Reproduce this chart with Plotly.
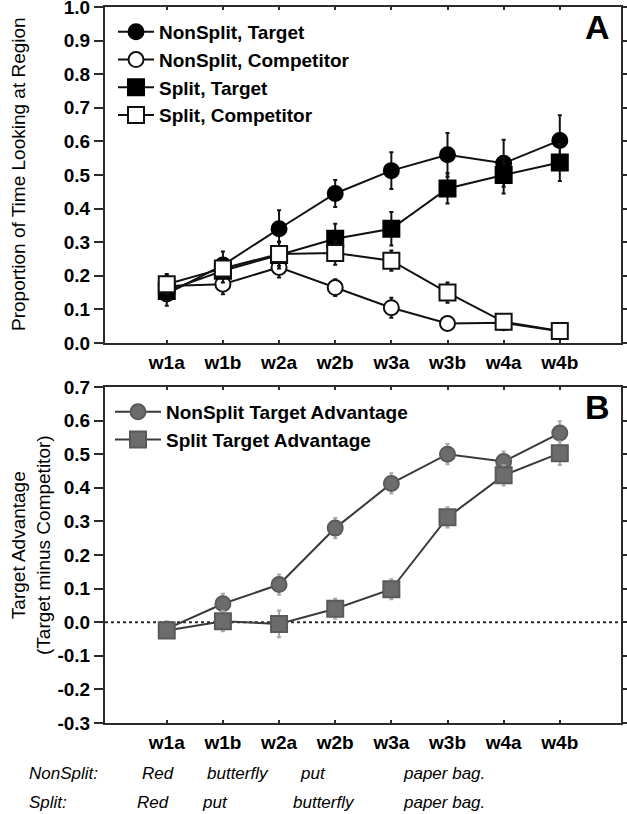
import plotly.graph_objects as go

categories = ["w1a", "w1b", "w2a", "w2b", "w3a", "w3b", "w4a", "w4b"]

# Panel A
ns_target = [0.146, 0.232, 0.340, 0.445, 0.513, 0.560, 0.535, 0.603]
ns_target_err = [0.035, 0.040, 0.055, 0.040, 0.055, 0.065, 0.070, 0.075]
ns_comp = [0.170, 0.175, 0.225, 0.165, 0.105, 0.058, 0.060, 0.035]
ns_comp_err = [0.030, 0.030, 0.030, 0.025, 0.030, 0.015, 0.015, 0.010]
sp_target = [0.155, 0.215, 0.262, 0.310, 0.340, 0.460, 0.500, 0.537]
sp_target_err = [0.030, 0.035, 0.040, 0.045, 0.050, 0.045, 0.055, 0.055]
sp_comp = [0.175, 0.222, 0.265, 0.268, 0.245, 0.150, 0.063, 0.036]
sp_comp_err = [0.030, 0.030, 0.035, 0.035, 0.030, 0.030, 0.015, 0.010]

# Panel B
ns_adv = [-0.020, 0.055, 0.112, 0.280, 0.413, 0.500, 0.478, 0.563]
ns_adv_err = [0.020, 0.030, 0.030, 0.030, 0.030, 0.030, 0.030, 0.035]
sp_adv = [-0.025, 0.003, -0.005, 0.040, 0.098, 0.312, 0.437, 0.503]
sp_adv_err = [0.020, 0.030, 0.040, 0.030, 0.030, 0.030, 0.030, 0.035]

# Tick labels
a_ticks = [0.0, 0.1, 0.2, 0.3, 0.4, 0.5, 0.6, 0.7, 0.8, 0.9, 1.0]
a_ticktext = ["0.0", "0.1", "0.2", "0.3", "0.4", "0.5", "0.6", "0.7", "0.8", "0.9", "1.0"]
b_ticks = [-0.3, -0.2, -0.1, 0.0, 0.1, 0.2, 0.3, 0.4, 0.5, 0.6, 0.7]
b_ticktext = ["-0.3", "-0.2", "-0.1", "0.0", "0.1", "0.2", "0.3", "0.4", "0.5", "0.6", "0.7"]

nonsplit_words = ["Red", "butterfly", "put", "paper bag."]
split_words = ["Red", "put", "butterfly", "paper bag."]

FONT = "Liberation Sans, Arial, sans-serif"
AX = "#2b2b2b"
W, H = 627, 814
L, R, T, B = 105, 6, 7, 91
pw, ph = W - L - R, H - T - B

def px(x):
    return (x - L) / pw

def py(y):
    return (H - B - y) / ph

xs = list(range(len(categories)))
fig = go.Figure()

def add(y, err, name, symbol, fill, line, xa, ya, legend, mcolor_line, errcolor, size):
    fig.add_trace(go.Scatter(
        x=xs, y=y, name=name, mode="lines+markers", xaxis=xa, yaxis=ya, legend=legend,
        line=dict(color=line, width=2),
        marker=dict(symbol=symbol, size=size, color=fill, line=dict(color=mcolor_line, width=2)),
        error_y=dict(type="data", array=err, visible=True, color=errcolor, thickness=2, width=2),
    ))

add(ns_target, ns_target_err, "NonSplit, Target", "circle", "black", "#111", "x", "y", "legend", "black", "#111", 15)
add(ns_comp, ns_comp_err, "NonSplit, Competitor", "circle", "white", "#111", "x", "y", "legend", "#111", "#111", 15)
add(sp_target, sp_target_err, "Split, Target", "square", "black", "#111", "x", "y", "legend", "black", "#111", 16)
add(sp_comp, sp_comp_err, "Split, Competitor", "square", "white", "#111", "x", "y", "legend", "#111", "#111", 16)

add(ns_adv, ns_adv_err, "NonSplit Target Advantage", "circle", "#6c6c6c", "#3a3a3a", "x2", "y2", "legend2", "#5a5a5a", "#a8a8a8", 15)
add(sp_adv, sp_adv_err, "Split Target Advantage", "square", "#6c6c6c", "#3a3a3a", "x2", "y2", "legend2", "#5a5a5a", "#a8a8a8", 16)

xcommon = dict(
    tickmode="array", tickvals=xs, ticktext=categories, range=[-1.1, 8.09],
    showline=True, linecolor=AX, linewidth=2, mirror="ticks",
    ticks="inside", ticklen=3, tickwidth=2, tickcolor=AX,
    showgrid=False, zeroline=False, automargin=False, ticklabeloverflow="allow",
    tickfont=dict(family=FONT, size=19, color="black", weight="bold"),
)
ycommon = dict(
    tickmode="array",
    showline=True, linecolor=AX, linewidth=2, mirror="ticks",
    ticks="outside", ticklen=9, tickwidth=2, tickcolor=AX,
    showgrid=False, zeroline=False, automargin=False, ticklabeloverflow="allow",
    tickfont=dict(family=FONT, size=19, color="black", weight="bold"),
)

a_bottom = py(343)
b_top = py(387)

fig.update_layout(
    width=W, height=H,
    margin=dict(l=L, r=R, t=T, b=B, autoexpand=False),
    paper_bgcolor="white", plot_bgcolor="white",
    xaxis=dict(xcommon, domain=[0, 1], anchor="y", ticklabelstandoff=1),
    yaxis=dict(ycommon, domain=[a_bottom, 1], range=[0, 1.0], anchor="x",
               tickvals=a_ticks, ticktext=a_ticktext),
    xaxis2=dict(xcommon, domain=[0, 1], anchor="y2", ticklabelstandoff=1),
    yaxis2=dict(ycommon, domain=[0, b_top], range=[-0.3, 0.7], anchor="x2",
                tickvals=b_ticks, ticktext=b_ticktext),
    showlegend=True,
    legend=dict(x=px(113), y=py(13), xanchor="left", yanchor="top", itemwidth=36,
                bgcolor="rgba(0,0,0,0)", borderwidth=0, tracegroupgap=0,
                font=dict(family=FONT, size=19, color="black", weight="bold")),
    legend2=dict(x=px(110), y=py(393), xanchor="left", yanchor="top", itemwidth=46,
                 bgcolor="rgba(0,0,0,0)", borderwidth=0,
                 font=dict(family=FONT, size=19, color="black", weight="bold")),
)

fig.add_shape(type="line", xref="x2", yref="y2", x0=-1.1, x1=8.09, y0=0, y1=0,
              line=dict(color=AX, width=2, dash="dot"), layer="below")

def note(text, x, y, font, xanchor="center", angle=0):
    return dict(text=text, x=px(x), y=py(y), xref="paper", yref="paper", showarrow=False,
                xanchor=xanchor, yanchor="middle", textangle=angle, font=font)

ann = []
big = dict(family=FONT, size=34, color="black", weight="bold")
ann.append(note("A", 597, 27, big))
ann.append(note("B", 597, 407, big))
tfont = dict(family=FONT, size=19, color="black")
ann.append(note("Proportion of Time Looking at Region", 19, 174, tfont, angle=-90))
ann.append(note("Target Advantage<br>(Target minus Competitor)", 31, 545, tfont, angle=-90))

ifont = dict(family=FONT, size=17, color="black", style="italic")
ann.append(note("NonSplit:", 27, 773, ifont, xanchor="left"))
ann.append(note("Split:", 27, 802, ifont, xanchor="left"))
for w, xc in zip(nonsplit_words, [158, 238, 313, 444]):
    ann.append(note(w, xc, 773, ifont))
for w, xc in zip(split_words, [153, 215, 324, 444]):
    ann.append(note(w, xc, 802, ifont))
fig.update_layout(annotations=ann)

fig.write_html(
    "out.html",
    config={"displayModeBar": False},
    post_script="document.body.style.margin='0';document.body.style.overflow='hidden';",
)
